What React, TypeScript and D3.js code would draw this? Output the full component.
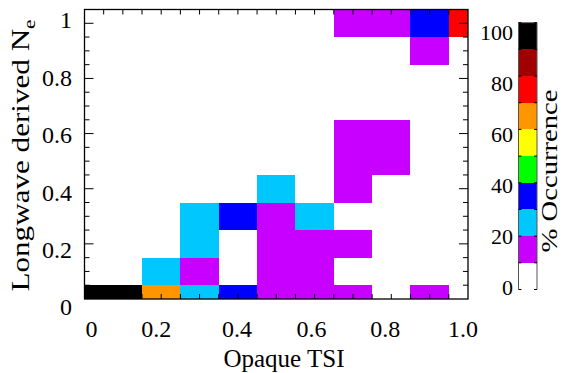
import React from "react";
import * as d3 from "d3";

// Bin centres (Opaque TSI on x, Longwave derived Ne on y)
const xBins = [0, 0.1, 0.2, 0.3, 0.4, 0.5, 0.6, 0.7, 0.8, 0.9, 1.0];
const yBins = [0, 0.1, 0.2, 0.3, 0.4, 0.5, 0.6, 0.7, 0.8, 0.9, 1.0];

// % occurrence, one row per y bin (row index = yBins index), columns = xBins
const occurrence: number[][] = [
  [100, 100, 65, 22, 35, 14, 15, 12, 0, 12, 0],
  [0, 0, 25, 15, 0, 16, 17, 0, 0, 0, 0],
  [0, 0, 0, 25, 0, 12, 13, 11, 0, 0, 0],
  [0, 0, 0, 26, 38, 18, 22, 0, 0, 0, 0],
  [0, 0, 0, 0, 0, 24, 0, 14, 0, 0, 0],
  [0, 0, 0, 0, 0, 0, 0, 13, 15, 0, 0],
  [0, 0, 0, 0, 0, 0, 0, 12, 16, 0, 0],
  [0, 0, 0, 0, 0, 0, 0, 0, 0, 0, 0],
  [0, 0, 0, 0, 0, 0, 0, 0, 0, 0, 0],
  [0, 0, 0, 0, 0, 0, 0, 0, 0, 18, 0],
  [0, 0, 0, 0, 0, 0, 0, 11, 14, 33, 75],
];

const levelBreaks = [10, 20, 30, 40, 50, 60, 70, 80, 90];
const levelColors = [
  "#ffffff", "#c800ff", "#00c8ff", "#0000ff", "#00ff00",
  "#ffff00", "#ff9600", "#ff0000", "#a00000", "#000000",
];
const xTickLabels = ["0", "0.2", "0.4", "0.6", "0.8", "1.0"];
const xTickValues = [0, 0.2, 0.4, 0.6, 0.8, 1.0];
const xLabelNudge = [7, -5, -1, -3, -6, -5];
const yTickLabels = ["0", "0.2", "0.4", "0.6", "0.8", "1"];
const yTickValues = [0, 0.2, 0.4, 0.6, 0.8, 1.0];
const cbLabelValues = [0, 20, 40, 60, 80, 100];

const W = 563;
const H = 373;
const font = "'Liberation Serif', 'Times New Roman', serif";

export default function App() {
  const left = 84.5, right = 468, top = 9.5, bottom = 299;
  const x = d3.scaleLinear().domain([0, 1]).range([left, right]);
  const y = d3.scaleLinear().domain([0, 1.05]).range([bottom, top]);
  const yLab = d3.scaleLinear().domain([0, 1]).range([307, 20]);
  const color = d3.scaleThreshold<number, string>().domain(levelBreaks).range(levelColors);
  const half = 0.05;

  const cells: { x0: number; x1: number; y0: number; y1: number; c: string }[] = [];
  occurrence.forEach((row, j) => {
    row.forEach((v, i) => {
      if (v < levelBreaks[0]) return;
      const xc = xBins[i], yc = yBins[j];
      cells.push({
        x0: x(Math.max(0, xc - half)),
        x1: x(Math.min(1, xc + half)),
        y0: y(Math.min(1.05, yc + half)),
        y1: y(Math.max(0, yc - half)),
        c: color(v),
      });
    });
  });

  const xMinor = d3.range(1, 20).map((k) => k * 0.05);
  const yMinor = d3.range(1, 21).map((k) => k * 0.05);
  const isMajorY = (v: number) => Math.abs(v / 0.2 - Math.round(v / 0.2)) < 1e-6;

  // colorbar
  const cbLeft = 518.5, cbRight = 537;
  const cb = d3.scaleLinear().domain([0, 100]).range([289.5, 22.7]);
  const cbLab = d3.scaleLinear().domain([0, 100]).range([287, 32]);
  const cbSegs = d3.range(0, 100, 10);

  return (
    <svg width={W} height={H} style={{ position: "absolute", left: 0, top: 0 }} fontFamily={font}>
      <rect width={W} height={H} fill="#fff" />
      <g shapeRendering="crispEdges">
        {cells.map((d, k) => (
          <rect key={k} x={d.x0} y={d.y0} width={d.x1 - d.x0} height={d.y1 - d.y0} fill={d.c} />
        ))}
      </g>
      {/* ticks */}
      {xMinor.map((v, k) => (
        <g key={"xt" + k} stroke="#000" strokeWidth={1}>
          <line x1={x(v)} x2={x(v)} y1={bottom} y2={bottom - 5} />
          <line x1={x(v)} x2={x(v)} y1={top} y2={top + 5} />
        </g>
      ))}
      {yMinor.map((v, k) => {
        const len = isMajorY(v) ? 9 : 5;
        return (
          <g key={"yt" + k} stroke="#000" strokeWidth={1}>
            <line x1={left} x2={left + len} y1={y(v)} y2={y(v)} />
            <line x1={right} x2={right - len} y1={y(v)} y2={y(v)} />
          </g>
        );
      })}
      <rect x={left} y={top} width={right - left} height={bottom - top} fill="none" stroke="#000" strokeWidth={1.3} />

      {/* tick labels */}
      {xTickValues.map((v, k) => (
        <text key={"xl" + k} x={x(v) + xLabelNudge[k]} y={337} fontSize={24} textAnchor="middle">
          {xTickLabels[k]}
        </text>
      ))}
      {yTickValues.map((v, k) => (
        <text key={"yl" + k} x={72} y={yLab(v)} dy="0.35em" fontSize={24} textAnchor="end">
          {yTickLabels[k]}
        </text>
      ))}

      {/* titles */}
      <text x={284} y={367} fontSize={25} textAnchor="middle">Opaque TSI</text>
      <text
        transform={`translate(29,155.5) rotate(-90)`}
        fontSize={25}
        textAnchor="middle"
        textLength={272}
        lengthAdjust="spacingAndGlyphs"
      >
        Longwave derived N<tspan fontSize={17} dy={6}>e</tspan>
      </text>

      {/* colorbar */}
      <g shapeRendering="crispEdges">
        {cbSegs.map((v) => (
          <rect key={"cb" + v} x={cbLeft} y={cb(v + 10)} width={cbRight - cbLeft} height={cb(v) - cb(v + 10)} fill={color(v + 5)} />
        ))}
      </g>
      <g stroke="#555" strokeWidth={1}>
        <line x1={cbLeft} x2={cbLeft} y1={cb(100)} y2={cb(0)} />
        <line x1={cbRight} x2={cbRight} y1={cb(100)} y2={cb(0)} />
        <line x1={cbLeft} x2={cbRight} y1={cb(100)} y2={cb(100)} />
      </g>
      {d3.range(0, 101, 10).map((v) => (
        <g key={"cbt" + v} stroke="#000" strokeWidth={1}>
          <line x1={cbLeft} x2={cbLeft + 3} y1={cb(v)} y2={cb(v)} />
          <line x1={cbRight} x2={cbRight - 3} y1={cb(v)} y2={cb(v)} />
        </g>
      ))}
      {cbLabelValues.map((v) => (
        <text key={"cbl" + v} x={513} y={cbLab(v)} dy="0.35em" fontSize={22} textAnchor="end">
          {v}
        </text>
      ))}
      <text
        transform={`translate(557,171) rotate(-90)`}
        fontSize={24}
        textAnchor="middle"
        textLength={163}
        lengthAdjust="spacingAndGlyphs"
      >
        % Occurrence
      </text>
    </svg>
  );
}
